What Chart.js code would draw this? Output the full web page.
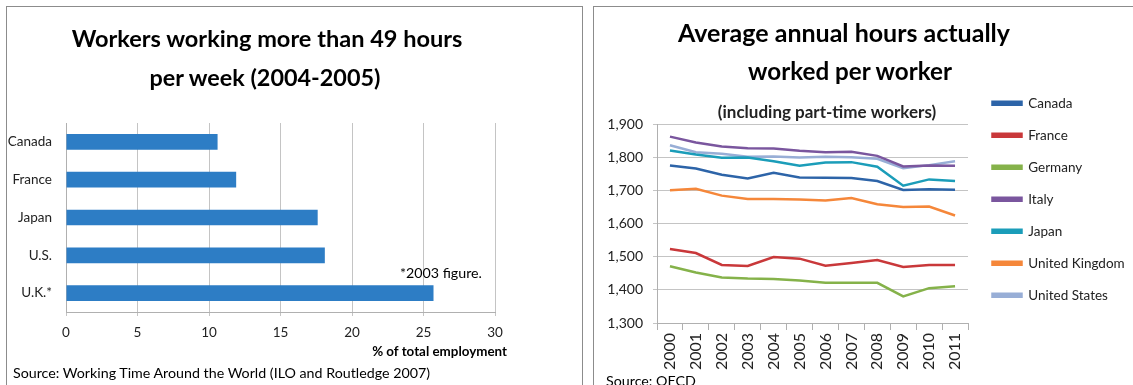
<!DOCTYPE html>
<html>
<head>
<meta charset="utf-8">
<script src="https://cdn.jsdelivr.net/npm/chart.js@4.4.1/dist/chart.umd.min.js"></script>
<style>
  html, body { margin: 0; padding: 0; width: 1133px; height: 385px; overflow: hidden; background: #fff; }
  body { position: relative; font-family: Lato, "Open Sans", sans-serif; color: #000; }
  .panel { position: absolute; border: 1.5px solid #8c8c8c; box-sizing: border-box; }
  .txt { position: absolute; white-space: nowrap; line-height: 1; }
  .wrap { position: absolute; }
</style>
</head>
<body>
<div class="panel" style="left:6px; top:6px; width:577px; height:400px;"></div>
<div class="panel" style="left:593px; top:6px; width:560px; height:400px;"></div>

<div class="wrap" style="left:0; top:0; width:580px; height:385px;"><canvas id="barChart"></canvas></div>
<div class="wrap" style="left:500px; top:0; width:660px; height:385px;"><canvas id="lineChart"></canvas></div>

<div class="txt fit" data-cx="267" data-w="391" data-base="48" style="font-weight:700;">Workers working more than 49 hours</div>
<div class="txt fit" data-cx="265" data-w="231" data-base="87" style="font-weight:700;">per week (2004-2005)</div>
<div class="txt fit" data-left="400" data-w="82" data-base="279">*2003 figure.</div>
<div class="txt fit" data-right="507" data-w="135" data-base="357" style="font-weight:700;">% of total employment</div>
<div class="txt fit" data-left="13" data-w="417" data-base="379">Source: Working Time Around the World (ILO and Routledge 2007)</div>

<div class="txt fit" data-cx="844" data-w="332" data-base="42" style="font-weight:700;">Average annual hours actually</div>
<div class="txt fit" data-cx="850" data-w="204" data-base="80" style="font-weight:700;">worked per worker</div>
<div class="txt fit" data-left="606" data-w="90" data-base="387">Source: OECD</div>

<script>
// ---------- Data: left chart ----------
const barCategories = ['Canada', 'France', 'Japan', 'U.S.', 'U.K.*'];
const barValues = [10.6, 11.9, 17.6, 18.1, 25.7];
const barTicks = [0, 5, 10, 15, 20, 25, 30];

// ---------- Data: right chart ----------
const years = ['2000','2001','2002','2003','2004','2005','2006','2007','2008','2009','2010','2011'];
const canada  = [1775, 1766, 1747, 1736, 1753, 1739, 1738, 1737, 1728, 1701, 1703, 1702];
const france  = [1523, 1511, 1475, 1472, 1499, 1494, 1473, 1481, 1490, 1469, 1475, 1475];
const germany = [1471, 1452, 1437, 1434, 1433, 1428, 1421, 1421, 1421, 1380, 1405, 1411];
const italy   = [1862, 1844, 1832, 1827, 1826, 1819, 1815, 1816, 1804, 1772, 1775, 1774];
const japan   = [1820, 1808, 1798, 1799, 1788, 1774, 1784, 1785, 1771, 1714, 1733, 1728];
const uk      = [1700, 1705, 1684, 1674, 1674, 1672, 1669, 1677, 1658, 1650, 1651, 1624];
const us      = [1836, 1815, 1810, 1801, 1802, 1799, 1801, 1800, 1795, 1767, 1776, 1788];
const seriesNames = ['Canada', 'France', 'Germany', 'Italy', 'Japan', 'United Kingdom', 'United States'];
const seriesColors = ['#2d64a8', '#c9383a', '#85b24a', '#7a569e', '#1b9db9', '#f5873a', '#98aed6'];
const yTicks = [1300, 1400, 1500, 1600, 1700, 1800, 1900];

const FONT = 'Lato, "Open Sans", sans-serif';

// ---------- Fit HTML texts ----------
document.querySelectorAll('.fit').forEach(el => {
  el.style.fontSize = '20px';
  const w0 = el.getBoundingClientRect().width;
  const target = parseFloat(el.dataset.w);
  const size = 20 * target / w0;
  el.style.fontSize = size.toFixed(2) + 'px';
  const w = el.getBoundingClientRect().width;
  let left;
  if (el.dataset.cx) left = parseFloat(el.dataset.cx) - w / 2;
  else if (el.dataset.right) left = parseFloat(el.dataset.right) - w;
  else left = parseFloat(el.dataset.left);
  el.style.left = left + 'px';
  el.style.top = (parseFloat(el.dataset.base) - 0.887 * size) + 'px';
});

// ---------- Left: horizontal bar chart ----------
new Chart(document.getElementById('barChart'), {
  type: 'bar',
  data: {
    labels: barCategories,
    datasets: [{
      data: barValues,
      backgroundColor: '#2d7dc5',
      borderWidth: 0,
      categoryPercentage: 0.8,
      barPercentage: 0.52
    }]
  },
  options: {
    indexAxis: 'y',
    responsive: true,
    maintainAspectRatio: false,
    animation: false,
    events: [],
    layout: { padding: { left: 6, right: 85, top: 123, bottom: 43 } },
    plugins: { legend: { display: false }, tooltip: { enabled: false }, title: { display: false } },
    scales: {
      x: {
        min: 0, max: 30,
        afterBuildTicks: s => { s.ticks = barTicks.map(v => ({ value: v })); },
        afterFit: s => { s.height = 30; },
        grid: { color: '#c4c4c4', lineWidth: 1, tickLength: 4, drawTicks: true },
        border: { display: true, color: '#b0b0b0' },
        ticks: { color: '#222', font: { family: FONT, size: 13.5 }, padding: 9 }
      },
      y: {
        afterFit: s => { s.width = 60; },
        grid: { display: false, drawTicks: false },
        border: { display: true, color: '#b0b0b0' },
        ticks: { color: '#222', font: { family: FONT, size: 13.5 }, padding: 14 }
      }
    }
  }
});

// ---------- Right: line chart ----------
const allSeries = [canada, france, germany, italy, japan, uk, us];
new Chart(document.getElementById('lineChart'), {
  type: 'line',
  data: {
    labels: years,
    datasets: allSeries.map((vals, i) => ({
      label: seriesNames[i],
      data: vals,
      borderColor: seriesColors[i],
      backgroundColor: seriesColors[i],
      borderWidth: 2.5,
      pointRadius: 0,
      tension: 0,
      fill: false
    }))
  },
  options: {
    responsive: true,
    maintainAspectRatio: false,
    animation: false,
    events: [],
    layout: { padding: { left: 25, right: 31, top: 78, bottom: 0 } },
    plugins: {
      tooltip: { enabled: false },
      title: {
        display: true,
        text: '(including part-time workers)',
        color: '#222',
        font: { family: FONT, size: 17, weight: 'bold' },
        padding: { top: 24, bottom: 1.6 }
      },
      legend: {
        display: true,
        position: 'right',
        align: 'start',
        fullSize: true,
        maxWidth: 155,
        labels: {
          boxWidth: 29,
          boxHeight: 3,
          padding: 18.5,
          color: '#222',
          font: { family: FONT, size: 13.5 }
        }
      }
    },
    scales: {
      x: {
        offset: true,
        afterFit: s => { s.height = 62; },
        grid: { offset: true, drawOnChartArea: false, drawTicks: true, tickLength: 7, color: '#b0b0b0' },
        border: { display: true, color: '#b0b0b0' },
        ticks: { color: '#222', font: { family: FONT, size: 16 }, minRotation: 90, maxRotation: 90, padding: 3, autoSkip: false }
      },
      y: {
        min: 1300, max: 1900,
        afterBuildTicks: s => { s.ticks = yTicks.map(v => ({ value: v })); },
        afterFit: s => { s.width = 132; },
        grid: { color: '#c4c4c4', tickLength: 4, drawTicks: true },
        border: { display: true, color: '#b0b0b0' },
        ticks: { color: '#222', font: { family: FONT, size: 14 }, padding: 10,
                 callback: v => v.toLocaleString('en-US') }
      },
      legendGap: {
        type: 'linear',
        position: 'right',
        display: true,
        afterFit: s => { s.width = 6; },
        grid: { display: false, drawTicks: false },
        border: { display: false },
        ticks: { display: false }
      }
    }
  }
});
</script>
</body>
</html>
